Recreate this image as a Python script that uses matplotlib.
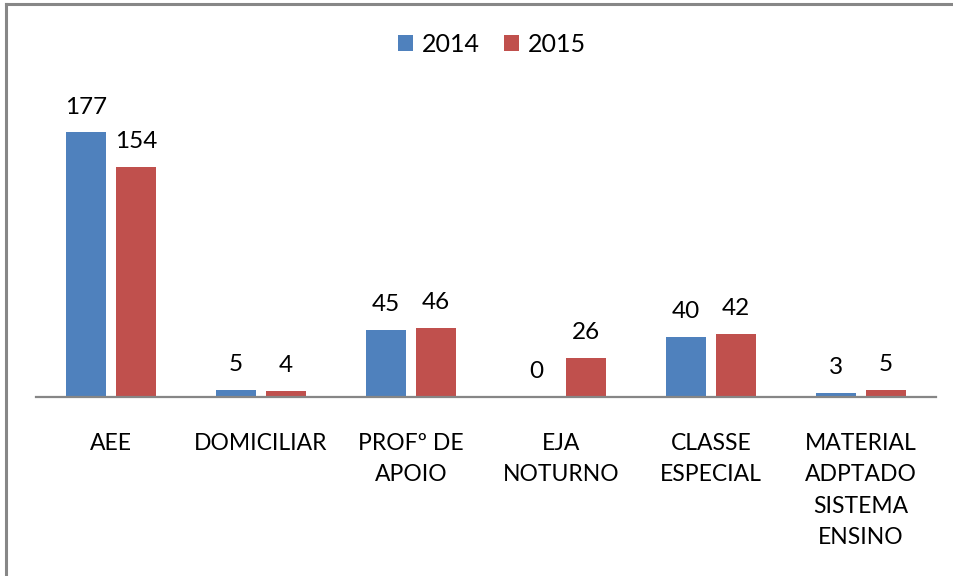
import numpy as np
import matplotlib
matplotlib.use("Agg")
import matplotlib.pyplot as plt
from matplotlib.patches import Patch
from matplotlib.lines import Line2D

plt.rcParams['font.family'] = ['Lato', 'DejaVu Sans']

# data
categories = ["AEE", "DOMICILIAR", "PROFº DE\nAPOIO", "EJA\nNOTURNO",
              "CLASSE\nESPECIAL", "MATERIAL\nADPTADO\nSISTEMA\nENSINO"]
vals_2014 = [177, 5, 45, 0, 40, 3]
vals_2015 = [154, 4, 46, 26, 42, 5]
series_names = ["2014", "2015"]
colors = ["#4F81BD", "#C0504D"]

W, H = 954, 576
fig = plt.figure(figsize=(W / 100, H / 100), dpi=100)
ax = fig.add_axes([36 / W, 1 - 397 / H, 900 / W, 299 / H])

x = np.arange(len(categories))
bw = 40 / 150
off = 25 / 150
for vals, c, dx in [(vals_2014, colors[0], -off), (vals_2015, colors[1], off)]:
    bars = ax.bar(x + dx, vals, width=bw, color=c, zorder=2)
    for b, v in zip(bars, vals):
        ax.annotate(str(v), (b.get_x() + b.get_width() / 2, b.get_height()),
                    xytext=(0, 13.5), textcoords="offset points",
                    ha="center", va="baseline", fontsize=17.5, color="black")

ax.set_xlim(-0.5, len(categories) - 0.5)
ax.set_ylim(0, 200)
ax.set_yticks([])
for s in ["top", "right", "left"]:
    ax.spines[s].set_visible(False)
ax.spines["bottom"].set_color("#868686")
ax.spines["bottom"].set_linewidth(1.6)
ax.set_xticks(x)
ax.set_xticklabels(categories, fontsize=16.5, linespacing=1.6, va="top")
ax.tick_params(axis="x", length=0, pad=26)

handles = [Patch(facecolor=c, edgecolor="none") for c in colors]
fig.legend(handles, series_names, loc="center", bbox_to_anchor=(492 / W, 1 - 44 / H),
           ncol=2, frameon=False, fontsize=18, handlelength=0.6, handleheight=0.6,
           handletextpad=0.35, columnspacing=1.0)

# partial frame visible at top and left of the image
fig.add_artist(Line2D([6 / W, 6 / W], [0, 1 - 4 / H], transform=fig.transFigure,
                      color="#878787", lw=2.2))
fig.add_artist(Line2D([6 / W, 1], [1 - 4 / H, 1 - 4 / H], transform=fig.transFigure,
                      color="#878787", lw=2.2))

fig.savefig("out.png", dpi=100)
